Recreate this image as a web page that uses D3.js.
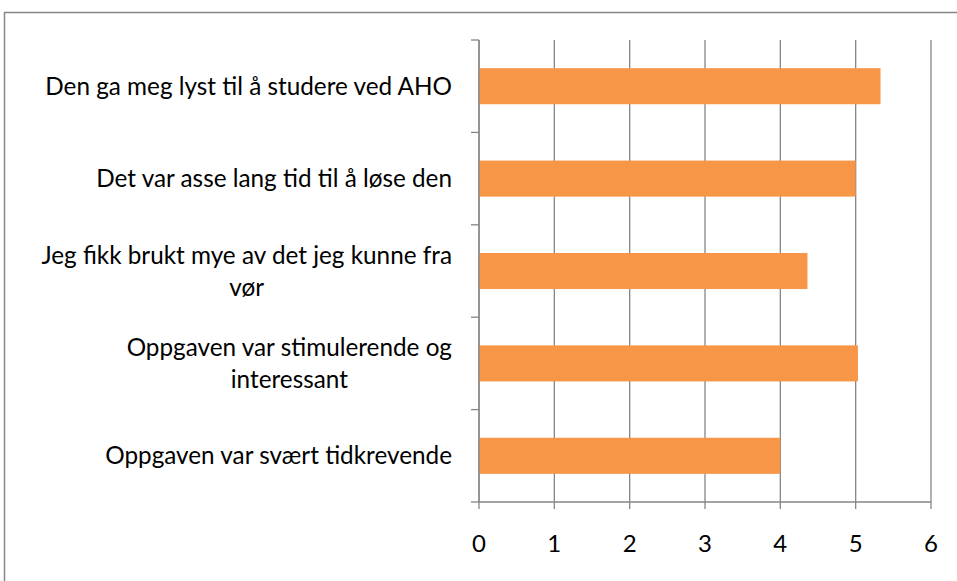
<!DOCTYPE html>
<html>
<head>
<meta charset="utf-8">
<script src="https://cdn.jsdelivr.net/npm/d3@7"></script>
<style>
  body { margin: 0; background: #fff; }
  text { font-family: Lato, "Open Sans", sans-serif; fill: #000; }
</style>
</head>
<body>
<div id="chart"></div>
<script>
// survey answers, top to bottom as in the chart
var categories = [
  "Den ga meg lyst til å studere ved AHO",
  "Det var asse lang tid til å løse den",
  "Jeg fikk brukt mye av det jeg kunne fra\nvør",
  "Oppgaven var stimulerende og\ninteressant",
  "Oppgaven var svært tidkrevende"
];
var values = [5.33, 5.0, 4.36, 5.03, 4.0];
var xTicks = [0, 1, 2, 3, 4, 5, 6];

var svgWidth = 957, svgHeight = 581;
var plotLeft = 479, plotRight = 931, plotTop = 40, plotBottom = 502;
var gridColor = "#868686";
var fontSize = "24.3px";

var svg = d3.select("#chart").append("svg")
  .attr("width", svgWidth)
  .attr("height", svgHeight);

// outer frame, right and bottom edges fall outside the picture
svg.append("rect")
  .attr("x", 4.5).attr("y", 12.5)
  .attr("width", 1000).attr("height", 1000)
  .attr("fill", "none")
  .attr("stroke", gridColor)
  .attr("stroke-width", 1.5);

var x = d3.scaleLinear().domain([0, 6]).range([plotLeft, plotRight]);
var y = d3.scaleBand().domain(categories).range([plotTop, plotBottom])
  .paddingInner(0.61).paddingOuter(0.305);

// vertical gridlines
svg.append("g")
  .selectAll("line")
  .data(xTicks)
  .enter().append("line")
  .attr("x1", function(d) { return x(d); })
  .attr("x2", function(d) { return x(d); })
  .attr("y1", plotTop)
  .attr("y2", plotBottom + 7)
  .attr("stroke", gridColor)
  .attr("stroke-width", 1.3);

// bars
svg.append("g")
  .selectAll("rect")
  .data(categories)
  .enter().append("rect")
  .attr("x", x(0))
  .attr("y", function(d) { return y(d); })
  .attr("width", function(d, i) { return x(values[i]) - x(0); })
  .attr("height", y.bandwidth())
  .attr("fill", "#F79646");

// category axis line + ticks at band edges
svg.append("line")
  .attr("x1", x(0)).attr("x2", x(0))
  .attr("y1", plotTop).attr("y2", plotBottom)
  .attr("stroke", gridColor).attr("stroke-width", 1.3);
svg.append("g")
  .selectAll("line")
  .data(d3.range(categories.length + 1))
  .enter().append("line")
  .attr("x1", x(0) - 8).attr("x2", x(0))
  .attr("y1", function(i) { return plotTop + i * y.step(); })
  .attr("y2", function(i) { return plotTop + i * y.step(); })
  .attr("stroke", gridColor).attr("stroke-width", 1.3);

// value axis line
svg.append("line")
  .attr("x1", x(0)).attr("x2", x(6))
  .attr("y1", plotBottom).attr("y2", plotBottom)
  .attr("stroke", gridColor).attr("stroke-width", 1.3);

// value tick labels
svg.append("g")
  .selectAll("text")
  .data(xTicks)
  .enter().append("text")
  .attr("x", function(d) { return x(d); })
  .attr("y", 552)
  .attr("text-anchor", "middle")
  .style("font-size", "24px")
  .text(function(d) { return d; });

// category labels: block right aligned, lines centred inside it
var labelRight = 452, lineH = 32;
var lab = svg.append("g")
  .selectAll("g")
  .data(categories)
  .enter().append("g");

lab.each(function(d) {
  var g = d3.select(this);
  var lines = d.split("\n");
  var cy = y(d) + y.bandwidth() / 2;
  var t = g.selectAll("text").data(lines).enter().append("text")
    .attr("y", function(l, j) { return cy + (j - (lines.length - 1) / 2) * lineH + 8.5; })
    .style("font-size", fontSize)
    .text(function(l) { return l; });
  var w = 0;
  t.each(function() { w = Math.max(w, this.getComputedTextLength()); });
  t.attr("text-anchor", "middle").attr("x", labelRight - w / 2);
});
</script>
</body>
</html>
